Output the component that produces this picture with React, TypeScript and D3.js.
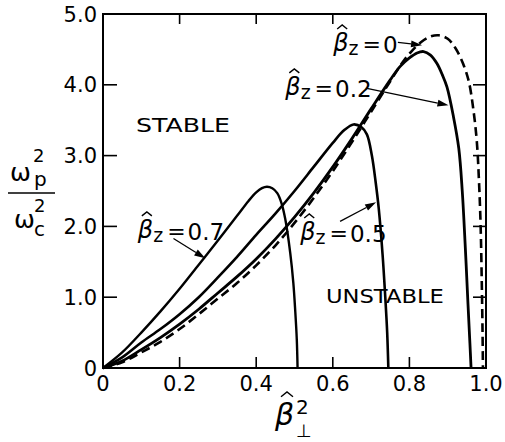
import React from 'react';
import * as d3 from 'd3';

// ---- data ----
const xTickValues = [0, 0.2, 0.4, 0.6, 0.8, 1.0];
const xTickLabels = ['0', '0.2', '0.4', '0.6', '0.8', '1.0'];
const yTickValues = [0, 1, 2, 3, 4, 5];
const yTickLabels = ['0', '1.0', '2.0', '3.0', '4.0', '5.0'];

// beta_z = 0 (dashed)
const curveB0: [number, number][] = [
  [0, 0], [0.05, 0.08], [0.1, 0.22], [0.15, 0.37], [0.2, 0.55], [0.25, 0.76], [0.3, 0.98],
  [0.35, 1.2], [0.4, 1.45], [0.45, 1.73], [0.5, 2.05], [0.55, 2.4], [0.6, 2.78], [0.65, 3.19],
  [0.7, 3.62], [0.75, 4.05], [0.78, 4.3], [0.805, 4.47], [0.83, 4.6], [0.854, 4.68], [0.876, 4.7],
  [0.9, 4.65], [0.92, 4.52], [0.94, 4.3], [0.955, 4.05], [0.967, 3.65], [0.976, 3.2], [0.982, 2.6],
  [0.986, 2.0], [0.989, 1.2], [0.991, 0.5], [0.992, 0],
];
// beta_z = 0.2
const curveB02: [number, number][] = [
  [0, 0], [0.05, 0.1], [0.1, 0.26], [0.15, 0.43], [0.2, 0.62], [0.25, 0.83], [0.3, 1.06],
  [0.35, 1.29], [0.4, 1.54], [0.45, 1.82], [0.5, 2.13], [0.55, 2.47], [0.6, 2.84], [0.65, 3.24],
  [0.7, 3.66], [0.75, 4.07], [0.776, 4.26], [0.8, 4.38], [0.82, 4.45], [0.837, 4.47], [0.855, 4.42],
  [0.872, 4.3], [0.886, 4.14], [0.898, 3.97], [0.915, 3.55], [0.929, 3.1], [0.938, 2.5],
  [0.946, 1.7], [0.953, 0.9], [0.958, 0.35], [0.961, 0],
];
// beta_z = 0.5
const curveB05: [number, number][] = [
  [0, 0], [0.05, 0.15], [0.1, 0.36], [0.15, 0.55], [0.2, 0.76], [0.25, 1.0], [0.3, 1.28],
  [0.35, 1.57], [0.4, 1.88], [0.45, 2.18], [0.5, 2.5], [0.55, 2.84], [0.6, 3.18], [0.63, 3.36],
  [0.654, 3.44], [0.675, 3.4], [0.689, 3.3], [0.702, 3.0], [0.712, 2.62], [0.72, 2.25],
  [0.73, 1.6], [0.737, 1.0], [0.742, 0.5], [0.745, 0],
];
// beta_z = 0.7
const curveB07: [number, number][] = [
  [0, 0], [0.05, 0.22], [0.1, 0.5], [0.15, 0.8], [0.2, 1.12], [0.25, 1.46], [0.3, 1.8],
  [0.35, 2.15], [0.38, 2.36], [0.4, 2.48], [0.415, 2.54], [0.428, 2.56], [0.442, 2.54],
  [0.455, 2.47], [0.466, 2.33], [0.476, 2.1], [0.489, 1.62], [0.497, 1.2], [0.502, 0.8],
  [0.506, 0.4], [0.508, 0],
];

// annotation labels: value text, anchor (data coords of label start / baseline)
const labelValues = ['0', '0.2', '0.7', '0.5'];
const labelAnchors: [number, number][] = [[0.601, 4.45], [0.476, 3.83], [0.091, 1.81], [0.515, 1.78]];
// arrows: [x1,y1,x2,y2] in data coords
const arrowData: [number, number, number, number][] = [
  [0.77, 4.6, 0.833, 4.56],
  [0.689, 3.95, 0.902, 3.71],
  [0.184, 1.83, 0.267, 1.55],
  [0.619, 2.07, 0.713, 2.34],
];
const regionLabels = ['STABLE', 'UNSTABLE'];
const regionAnchors: [number, number][] = [[0.086, 3.33], [0.582, 0.92]];

// ---- layout ----
const W = 505;
const H = 442;
const x = d3.scaleLinear().domain([0, 1]).range([103, 486]);
const y = d3.scaleLinear().domain([0, 5]).range([368, 14]);
const FONT = 'DejaVu Sans, sans-serif';

const line = d3
  .line<[number, number]>()
  .x((d) => x(d[0]))
  .y((d) => y(d[1]))
  .curve(d3.curveCatmullRom.alpha(0.5));

function Arrow({ d }: { d: [number, number, number, number] }) {
  const x1 = x(d[0]), y1 = y(d[1]), x2 = x(d[2]), y2 = y(d[3]);
  const ang = Math.atan2(y2 - y1, x2 - x1);
  const L = 11, Wd = 3.5;
  const bx = x2 - L * Math.cos(ang), by = y2 - L * Math.sin(ang);
  const px = -Math.sin(ang) * Wd, py = Math.cos(ang) * Wd;
  return (
    <g>
      <line x1={x1} y1={y1} x2={bx} y2={by} stroke="#000" strokeWidth={1.3} />
      <polygon points={`${x2},${y2} ${bx + px},${by + py} ${bx - px},${by - py}`} fill="#000" />
    </g>
  );
}

function Hat({ cx, top, w }: { cx: number; top: number; w: number }) {
  return (
    <polyline
      points={`${cx - w},${top + w * 0.8} ${cx},${top} ${cx + w},${top + w * 0.8}`}
      fill="none"
      stroke="#000"
      strokeWidth={1.4}
    />
  );
}

function BetaLabel({ at, value }: { at: [number, number]; value: string }) {
  const bx = x(at[0]);
  const by = y(at[1]);
  return (
    <g fontFamily={FONT} fill="#000">
      <text x={bx} y={by - 2} fontSize={24}>
        <tspan fontStyle="italic">β</tspan>
        <tspan dy={4} fontSize={19}>z</tspan>
        <tspan dy={-3} dx={4} fontSize={22}>=</tspan>
        <tspan dy={1} dx={2} fontSize={23}>{value}</tspan>
      </text>
      <Hat cx={bx + 9} top={by - 28} w={5} />
    </g>
  );
}

export default function App() {
  return (
    <svg
      width={W}
      height={H}
      viewBox={`0 0 ${W} ${H}`}
      style={{ position: 'absolute', left: 0, top: 0, background: '#fff' }}
    >
      <rect x={0} y={0} width={W} height={H} fill="#fff" />
      {/* frame */}
      <rect x={x(0)} y={y(5)} width={x(1) - x(0)} height={y(0) - y(5)} fill="none" stroke="#000" strokeWidth={2} />
      {/* ticks */}
      {xTickValues.slice(1, -1).map((v) => (
        <g key={'xt' + v}>
          <line x1={x(v)} x2={x(v)} y1={y(0)} y2={y(0) - 11} stroke="#000" strokeWidth={1.6} />
          <line x1={x(v)} x2={x(v)} y1={y(5)} y2={y(5) + 10} stroke="#000" strokeWidth={1.6} />
        </g>
      ))}
      {yTickValues.slice(1, -1).map((v) => (
        <g key={'yt' + v}>
          <line x1={x(0)} x2={x(0) + 14} y1={y(v)} y2={y(v)} stroke="#000" strokeWidth={1.6} />
          <line x1={x(1)} x2={x(1) - 13} y1={y(v)} y2={y(v)} stroke="#000" strokeWidth={1.6} />
        </g>
      ))}
      {/* tick labels */}
      <g fontFamily={FONT} fontSize={21} fill="#000">
        {xTickValues.map((v, i) => (
          <text key={'xl' + i} x={x(v)} y={391} textAnchor="middle">{xTickLabels[i]}</text>
        ))}
        {yTickValues.map((v, i) => (
          <text key={'yl' + i} x={97} y={y(v) + 7.5} textAnchor="end">{yTickLabels[i]}</text>
        ))}
      </g>
      {/* curves */}
      <path d={line(curveB0) || ''} fill="none" stroke="#000" strokeWidth={2.6} strokeDasharray="9 5" />
      <path d={line(curveB02) || ''} fill="none" stroke="#000" strokeWidth={2.8} />
      <path d={line(curveB05) || ''} fill="none" stroke="#000" strokeWidth={2.6} />
      <path d={line(curveB07) || ''} fill="none" stroke="#000" strokeWidth={2.4} />
      {/* annotations */}
      {labelValues.map((v, i) => (
        <BetaLabel key={'bl' + i} at={labelAnchors[i]} value={v} />
      ))}
      {arrowData.map((d, i) => (
        <Arrow key={'ar' + i} d={d} />
      ))}
      <g fontFamily={FONT} fontSize={20} fill="#000">
        <text x={x(regionAnchors[0][0])} y={y(regionAnchors[0][1])} textLength={94} lengthAdjust="spacingAndGlyphs">{regionLabels[0]}</text>
        <text x={x(regionAnchors[1][0])} y={y(regionAnchors[1][1])} textLength={118} lengthAdjust="spacingAndGlyphs">{regionLabels[1]}</text>
      </g>
      {/* x axis label */}
      <g fontFamily={FONT} fill="#000">
        <text x={275} y={425} fontSize={30}>
          <tspan fontStyle="italic">β</tspan>
          <tspan x={296} y={414} fontSize={20}>2</tspan>
          <tspan x={296} y={437} fontSize={18}>⊥</tspan>
        </text>
        <Hat cx={287} top={392} w={6} />
      </g>
      {/* y axis label */}
      <g fontFamily={FONT} fill="#000">
        <text x={10} y={181} fontSize={25}>
          ω<tspan x={33} y={162} fontSize={18}>2</tspan>
          <tspan x={34} y={186} fontSize={20}>p</tspan>
        </text>
        <line x1={8} x2={55} y1={193} y2={193} stroke="#000" strokeWidth={1.6} />
        <text x={14} y={228} fontSize={25}>
          ω<tspan x={34} y={212} fontSize={18}>2</tspan>
          <tspan x={34} y={236} fontSize={20}>c</tspan>
        </text>
      </g>
    </svg>
  );
}
